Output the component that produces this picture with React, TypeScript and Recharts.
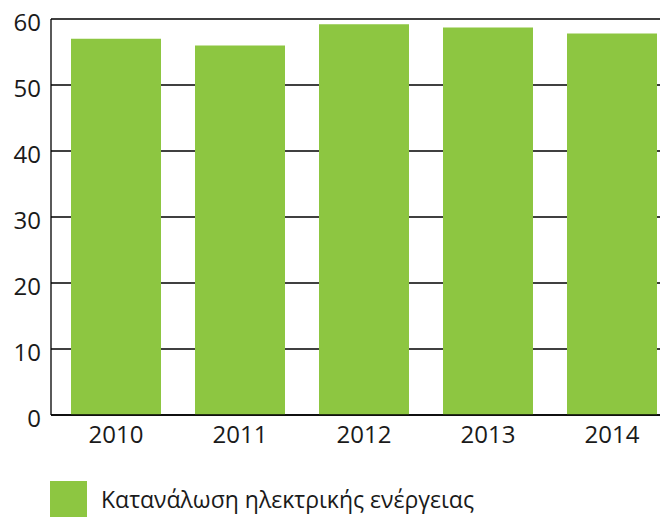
import React from 'react';
import { BarChart, Bar, XAxis, YAxis, CartesianGrid, Legend } from 'recharts';

const years = ['2010', '2011', '2012', '2013', '2014'];
const consumption = [57.0, 56.0, 59.2, 58.7, 57.8];
const yTicks = [0, 10, 20, 30, 40, 50, 60];
const seriesName = 'Κατανάλωση ηλεκτρικής ενέργειας';
const GREEN = '#8DC641';
const FONT = '"Open Sans", sans-serif';

const data = years.map((y, i) => ({ year: y, value: consumption[i] }));

const LegendContent = () => (
  <div style={{ display: 'flex', alignItems: 'center', fontFamily: FONT, height: 37 }}>
    <div style={{ width: 37, height: 37, background: GREEN }} />
    <span style={{ marginLeft: 14, fontSize: 23, color: '#1a1a1a', lineHeight: '37px', whiteSpace: 'nowrap' }}>{seriesName}</span>
  </div>
);

export default function App() {
  return (
    <div style={{ position: 'absolute', left: 0, top: 0, width: 660, height: 517, overflow: 'hidden', background: '#fff' }}>
      <BarChart
        width={674}
        height={517}
        data={data}
        margin={{ top: 19, right: 0, bottom: 0, left: 0 }}
        barCategoryGap={17}
      >
        <CartesianGrid vertical={false} stroke="#000" strokeWidth={1.3} />
        <XAxis
          dataKey="year"
          padding={{ left: 3, right: 0 }}
          axisLine={{ stroke: '#000', strokeWidth: 1.3 }}
          tickLine={false}
          tickSize={0}
          tickMargin={11}
          height={65}
          tick={{ fill: '#1a1a1a', fontSize: 24, fontFamily: FONT }}
          interval={0}
        />
        <YAxis
          domain={[0, 60]}
          ticks={yTicks}
          width={51}
          axisLine={{ stroke: '#000', strokeWidth: 1.3 }}
          tickLine={false}
          tickSize={0}
          tickMargin={10}
          tick={{ fill: '#1a1a1a', fontSize: 24, fontFamily: FONT, dy: 3 }}
        />
        <Legend
          content={<LegendContent />}
          wrapperStyle={{ position: 'absolute', left: 50, top: 481, width: 'auto', bottom: 'auto' }}
        />
        <Bar dataKey="value" name={seriesName} fill={GREEN} isAnimationActive={false} />
      </BarChart>
    </div>
  );
}
